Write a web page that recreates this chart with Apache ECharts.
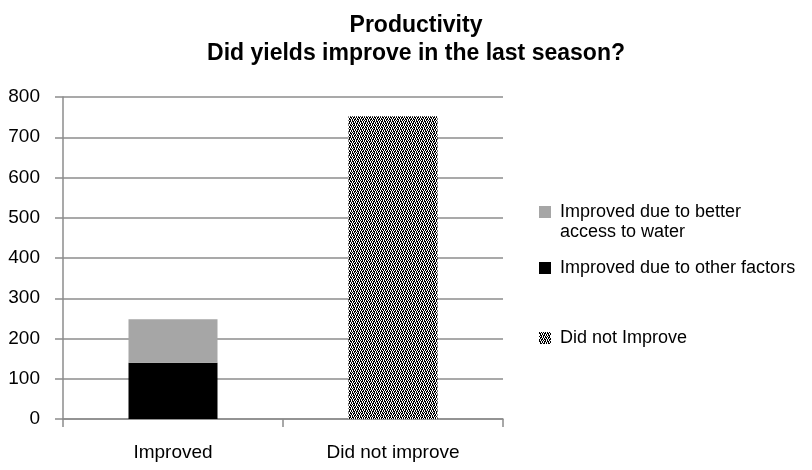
<!DOCTYPE html>
<html>
<head>
<meta charset="utf-8">
<style>
  html, body { margin: 0; padding: 0; background: #fff; }
  #chart { width: 812px; height: 470px; }
</style>
<script src="https://cdn.jsdelivr.net/npm/echarts@6/dist/echarts.min.js"></script>
</head>
<body>
<div id="chart"></div>
<script>
// Categories and values
const categories = ['Improved', 'Did not improve'];
const seriesNames = ['Improved due to better access to water', 'Improved due to other factors', 'Did not Improve'];
const otherFactors = [140, null];
const betterWater = [108, null];
const notImproved = [null, 752];
const yTicks = { min: 0, max: 800, step: 100 };

const FONT = '"Liberation Sans", Arial, Helvetica, sans-serif';

// Fine black/white dither used for the "Did not Improve" bar
function makePattern() {
  const rows = [
    '10101010',
    '11010110',
    '01010101',
    '01101101',
    '10101010',
    '01101011',
    '01010101',
    '10110110'
  ];
  const c = document.createElement('canvas');
  c.width = 8; c.height = rows.length;
  const ctx = c.getContext('2d');
  ctx.fillStyle = '#fff';
  ctx.fillRect(0, 0, c.width, c.height);
  ctx.fillStyle = '#000';
  rows.forEach((r, y) => {
    for (let x = 0; x < r.length; x++) if (r[x] === '1') ctx.fillRect(x, y, 1, 1);
  });
  return { image: c, repeat: 'repeat' };
}
const dither = makePattern();

const gridColor = '#8c8c8c';
const legendText = { fontFamily: FONT, fontSize: 18, color: '#000', lineHeight: 20, padding: [0, 0, 0, 4] };

// one legend block per entry so each can sit at its own height
function legendEntry(name, top, extra) {
  return Object.assign({
    orient: 'vertical',
    left: 539,
    top: top,
    padding: 0,
    itemWidth: 12,
    itemHeight: 12,
    icon: 'rect',
    selectedMode: false,
    data: [name],
    textStyle: legendText
  }, extra || {});
}

const chart = echarts.init(document.getElementById('chart'), null, { renderer: 'canvas' });

chart.setOption({
  animation: false,
  backgroundColor: '#fff',
  textStyle: { fontFamily: FONT },
  title: {
    text: 'Productivity\nDid yields improve in the last season?',
    left: 411,
    textAlign: 'center',
    top: 7,
    textStyle: { fontFamily: FONT, fontWeight: 'bold', fontSize: 23, lineHeight: 28, color: '#000' }
  },
  legend: [
    // blank first line keeps the swatch level with "Improved due to better"
    legendEntry(seriesNames[0], 182, {
      formatter: () => ' \nImproved due to better\naccess to water'
    }),
    legendEntry(seriesNames[1], 258),
    legendEntry(seriesNames[2], 328)
  ],
  grid: { left: 63, top: 97, width: 440, height: 322, containLabel: false },
  xAxis: {
    type: 'category',
    data: categories,
    axisLine: { lineStyle: { color: gridColor, width: 1.5 } },
    axisTick: { show: true, length: 8, lineStyle: { color: gridColor, width: 1.5 } },
    axisLabel: { color: '#000', fontSize: 19, margin: 24, fontFamily: FONT }
  },
  yAxis: {
    type: 'value',
    min: yTicks.min,
    max: yTicks.max,
    interval: yTicks.step,
    axisLine: { show: true, lineStyle: { color: gridColor, width: 1.5 } },
    axisTick: { show: true, length: 8, lineStyle: { color: gridColor, width: 1.5 } },
    splitLine: { lineStyle: { color: gridColor, width: 1.5 } },
    axisLabel: { color: '#000', fontSize: 19, margin: 23, fontFamily: FONT }
  },
  series: [
    { name: seriesNames[1], type: 'bar', stack: 'total', data: otherFactors, barWidth: 89, itemStyle: { color: '#000' } },
    { name: seriesNames[0], type: 'bar', stack: 'total', data: betterWater, barWidth: 89, itemStyle: { color: '#a6a6a6' } },
    { name: seriesNames[2], type: 'bar', stack: 'total', data: notImproved, barWidth: 89, itemStyle: { color: dither } }
  ]
});
</script>
</body>
</html>
